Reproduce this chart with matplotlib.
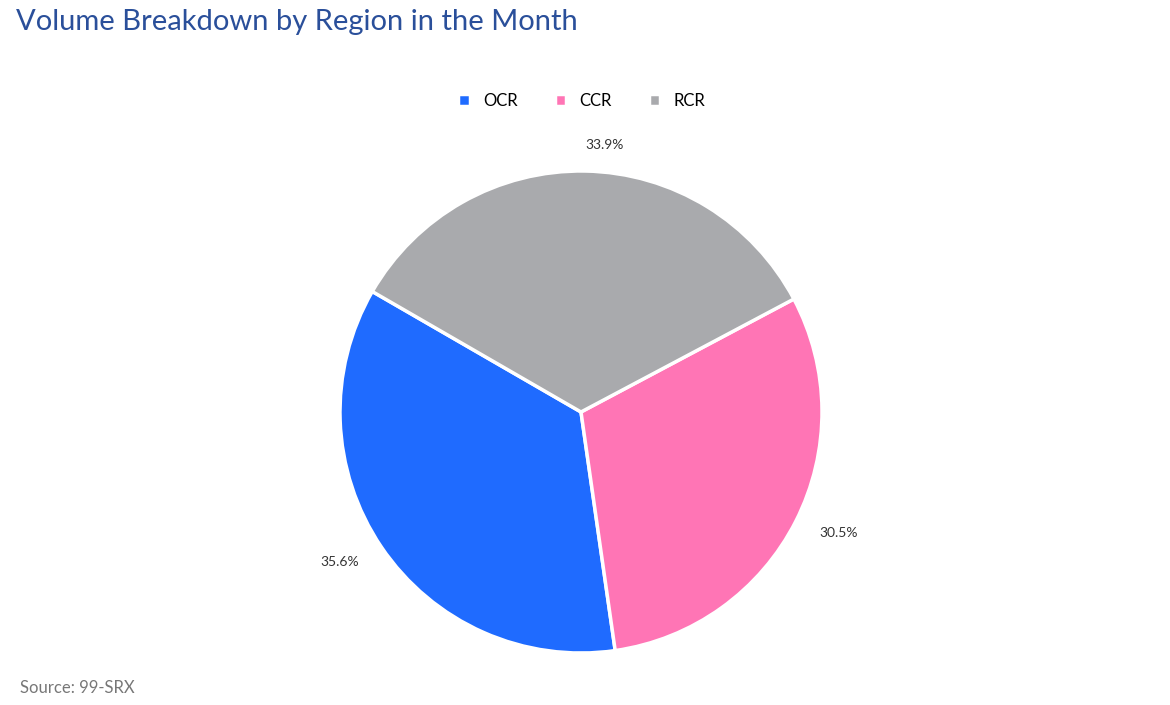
import matplotlib
matplotlib.use("Agg")
import matplotlib.pyplot as plt

categories = ["OCR", "CCR", "RCR"]
values = [35.6, 30.5, 33.9]
colors = ["#1f6bff", "#ff75b5", "#a9aaad"]

plt.rcParams['font.family'] = ['Lato', 'DejaVu Sans']
fig = plt.figure(figsize=(11.7, 7.05), dpi=100)
cx, cy, r = 581, 412, 241
ax = fig.add_axes([(cx - r) / 1170, (705 - cy - r) / 705, 2 * r / 1170, 2 * r / 705])
wedges, texts = ax.pie(values, colors=colors, startangle=150, counterclock=True,
                       labels=[f"{v}%" for v in values], labeldistance=1.11,
                       wedgeprops=dict(edgecolor="white", linewidth=2.5),
                       textprops=dict(fontsize=10, color="#333333"))
ax.set_xlim(-1, 1); ax.set_ylim(-1, 1)
ax.set_aspect('equal')

fig.text(16 / 1170, 1 - 22 / 705, "Volume Breakdown by Region in the Month",
         fontsize=21, color="#2a4f9a", va="center", ha="left")
fig.text(20 / 1170, 1 - 688 / 705, "Source: 99-SRX", fontsize=12, color="#777777",
         va="center", ha="left")
fig.legend(wedges, categories, loc="center", bbox_to_anchor=(582 / 1170, 1 - 101 / 705),
           ncol=3, frameon=False, fontsize=12, handlelength=0.7, handleheight=0.7,
           columnspacing=2.2, handletextpad=0.8)
fig.savefig("out.png", dpi=100)
